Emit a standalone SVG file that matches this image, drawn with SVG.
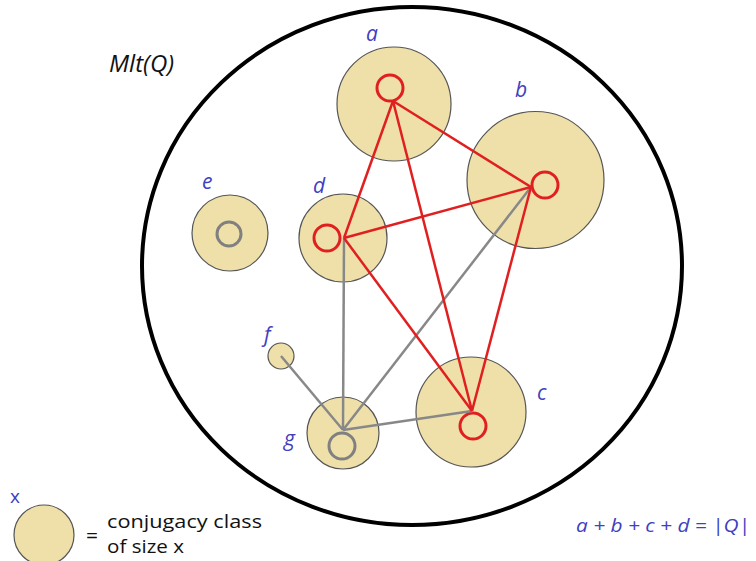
<svg xmlns="http://www.w3.org/2000/svg" width="756" height="561" viewBox="0 0 756 561">
<style>
.cls{fill:#efe0aa;stroke:#555;stroke-width:1.2}
.rin{fill:none;stroke:#e02020;stroke-width:3}
.gin{fill:none;stroke:#808080;stroke-width:3}
.red{stroke:#e02020;stroke-width:2.5;fill:none}
.gry{stroke:#888;stroke-width:2.5;fill:none}
.lbl{font-family:"Open Sans","Liberation Sans",sans-serif;font-style:italic;font-size:21px;fill:#4040c0}
.txt{font-family:"Open Sans","Liberation Sans",sans-serif;font-size:19px;fill:#111}
</style>
<rect width="756" height="561" fill="#fff"/>
<g id="mlt">
<ellipse cx="412" cy="266" rx="270" ry="259" fill="none" stroke="#000" stroke-width="4"/>
<text x="109" y="72" font-family="'Open Sans','Liberation Sans',sans-serif" font-style="italic" font-size="24" fill="#111">Mlt(Q)</text>
</g>
<g id="node-a"><circle class="cls" cx="394" cy="104" r="57"/><circle class="rin" cx="390" cy="88" r="13"/><text class="lbl" x="366" y="41">a</text></g>
<g id="node-b"><circle class="cls" cx="535.5" cy="180" r="68.5"/><circle class="rin" cx="545" cy="185" r="13"/><text class="lbl" x="515" y="97">b</text></g>
<g id="node-c"><circle class="cls" cx="471" cy="412" r="55"/><circle class="rin" cx="473" cy="426" r="13"/><text class="lbl" x="537" y="400">c</text></g>
<g id="node-d"><circle class="cls" cx="343" cy="238" r="44"/><circle class="rin" cx="327" cy="238" r="13"/><text class="lbl" x="313" y="193">d</text></g>
<g id="node-e"><circle class="cls" cx="230" cy="233" r="38"/><circle class="gin" cx="229" cy="234" r="12"/><text class="lbl" x="202" y="189">e</text></g>
<g id="node-f"><circle class="cls" cx="281" cy="356" r="13"/><text class="lbl" x="264" y="342">f</text></g>
<g id="node-g"><circle class="cls" cx="343" cy="433" r="36"/><circle class="gin" cx="342" cy="446" r="13"/><text class="lbl" x="284" y="446">g</text></g>
<g id="connectors">
<line class="gry" x1="281" y1="356" x2="343" y2="430"/>
<line class="gry" x1="344" y1="238" x2="343" y2="430"/>
<line class="gry" x1="531" y1="187" x2="343" y2="430"/>
<line class="gry" x1="472" y1="411" x2="343" y2="430"/>
<line class="red" x1="393" y1="101" x2="344" y2="238"/>
<line class="red" x1="393" y1="101" x2="531" y2="187"/>
<line class="red" x1="393" y1="101" x2="472" y2="411"/>
<line class="red" x1="344" y1="238" x2="531" y2="187"/>
<line class="red" x1="344" y1="238" x2="472" y2="411"/>
<line class="red" x1="531" y1="187" x2="472" y2="411"/>
</g>
<g id="legend">
<circle class="cls" cx="44" cy="535" r="30"/>
<text class="lbl" x="10" y="503" style="font-style:normal;font-size:19px">x</text>
<text class="txt" x="86" y="543" style="font-size:21px">=</text>
<text class="txt" x="107" y="528" textLength="155" lengthAdjust="spacingAndGlyphs">conjugacy class</text>
<text class="txt" x="107" y="553" textLength="77" lengthAdjust="spacingAndGlyphs">of size x</text>
</g>
<g id="formula"><text class="lbl" x="576" y="532" style="font-size:18px" textLength="174" lengthAdjust="spacingAndGlyphs">a + b + c + d = |Q|</text></g>
</svg>
